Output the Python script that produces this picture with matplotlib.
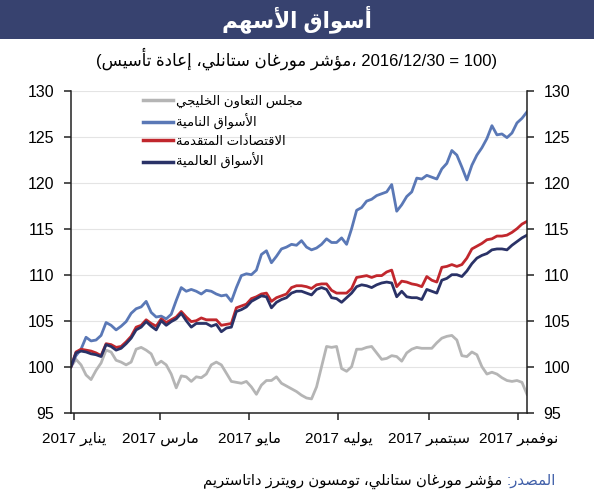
import numpy as np
import pandas as pd
import matplotlib
matplotlib.use('Agg')
import matplotlib.pyplot as plt
from matplotlib.patches import Rectangle

plt.rcParams['font.family'] = ['Liberation Sans', 'DejaVu Sans']

# --- بيانات (مؤشر مورغان ستانلي، 2016/12/30 = 100) ---
start_date = '2016-12-30'
end_date = '2017-11-07'

gcc = [100.0, 100.8, 100.2, 99.1, 98.6, 99.6, 100.4, 101.8, 101.6, 100.7, 100.5, 100.2,
       100.5, 101.9, 102.1, 101.8, 101.4, 100.2, 100.6, 100.2, 99.2, 97.7, 99.0, 98.9,
       98.4, 98.9, 98.8, 99.2, 100.2, 100.5, 100.2, 99.3, 98.4, 98.3, 98.2, 98.4,
       97.8, 97.0, 98.0, 98.5, 98.5, 98.9, 98.2, 97.9, 97.6, 97.3, 96.9,
       96.6, 96.5, 97.8, 100.0, 102.2, 102.1, 102.2, 99.8, 99.5, 100.0, 101.9, 101.9,
       102.1, 102.2, 101.5, 100.8, 100.9, 101.2, 101.1, 100.6, 101.5, 101.9, 102.1,
       102.0, 102.0, 102.0, 102.6, 103.1, 103.3, 103.4, 102.9, 101.2, 101.1, 101.6,
       101.3, 100.0, 99.2, 99.4, 99.2, 98.8, 98.5, 98.4, 98.5, 98.3, 97.0]

emerging = [100.0, 101.2, 101.9, 103.2, 102.8, 102.9, 103.4, 104.8, 104.5, 104.0, 104.4, 104.9,
            105.8, 106.3, 106.5, 107.1, 105.9, 105.4, 105.5, 105.2, 105.7, 107.2, 108.6, 108.2,
            108.4, 108.2, 107.9, 108.3, 108.2, 107.9, 107.7, 107.8, 107.1, 108.6, 109.9, 110.1,
            110.0, 110.5, 112.2, 112.6, 111.3, 112.0, 112.8, 113.0, 113.3, 113.2, 113.7,
            113.0, 112.7, 112.9, 113.3, 113.9, 113.5, 113.5, 114.0, 113.3, 115.0, 117.0, 117.3,
            118.0, 118.2, 118.6, 118.8, 119.0, 119.8, 116.9, 117.6, 118.5, 119.0, 120.5,
            120.4, 120.8, 120.6, 120.4, 121.5, 122.1, 123.5, 123.0, 121.7, 120.3, 121.9,
            123.0, 123.8, 124.8, 126.2, 125.2, 125.3, 124.9, 125.4, 126.5, 127.0, 127.7]

advanced = [100.0, 101.6, 101.9, 101.8, 101.7, 101.5, 101.2, 102.5, 102.4, 102.1, 102.2, 102.7,
            103.3, 104.3, 104.5, 105.1, 104.7, 104.4, 105.2, 104.8, 105.1, 105.4, 106.0, 105.4,
            104.9, 105.0, 105.3, 105.1, 105.1, 105.1, 104.5, 104.6, 104.7, 106.4, 106.6, 106.8,
            107.4, 107.6, 107.9, 108.0, 107.1, 107.5, 107.7, 107.9, 108.6, 108.8, 108.8,
            108.7, 108.5, 108.9, 109.0, 109.0, 108.3, 108.0, 108.0, 108.0, 108.5, 109.7, 109.8,
            109.9, 109.7, 109.9, 109.9, 110.3, 110.5, 108.7, 109.3, 109.2, 109.0, 108.9,
            108.7, 109.8, 109.4, 109.2, 110.8, 110.9, 111.1, 110.9, 111.1, 111.8, 112.8,
            113.1, 113.4, 113.8, 113.9, 114.2, 114.2, 114.3, 114.6, 115.0, 115.5, 115.8]

world = [100.0, 101.5, 101.7, 101.6, 101.4, 101.3, 101.1, 102.4, 102.2, 101.8, 102.0, 102.5,
         103.1, 104.0, 104.3, 104.9, 104.4, 104.0, 105.0, 104.5, 104.9, 105.2, 105.8, 105.0,
         104.3, 104.7, 104.7, 104.7, 104.4, 104.6, 103.8, 104.2, 104.3, 106.0, 106.2, 106.5,
         107.1, 107.4, 107.7, 107.6, 106.4, 107.0, 107.3, 107.5, 108.0, 108.2, 108.2,
         108.0, 107.8, 108.4, 108.6, 108.4, 107.5, 107.4, 107.0, 107.5, 108.0, 108.7, 108.9,
         108.8, 108.6, 108.9, 109.1, 109.2, 109.1, 107.6, 108.2, 107.6, 107.5, 107.5,
         107.3, 108.4, 108.2, 108.0, 109.4, 109.6, 110.0, 110.0, 109.8, 110.4, 111.2,
         111.8, 112.1, 112.3, 112.7, 112.8, 112.8, 112.7, 113.2, 113.6, 114.0, 114.3]

series_labels = ['مجلس التعاون الخليجي', 'الأسواق النامية', 'الاقتصادات المتقدمة', 'الأسواق العالمية']
series_colors = ['#b5b5b5', '#5a78b6', '#c1272d', '#2a3267']

tick_dates = ['2017-01-01', '2017-03-01', '2017-05-01', '2017-07-01', '2017-09-01', '2017-11-01']
tick_months = ['يناير', 'مارس', 'مايو', 'يوليه', 'سبتمبر', 'نوفمبر']

title = 'أسواق الأسهم'
subtitle_ar = 'مؤشر مورغان ستانلي، إعادة تأسيس'
subtitle_num = '، 2016/12/30 = 100)'
source_head = 'المصدر:'
source_body = 'مؤشر مورغان ستانلي، تومسون رويترز داتاستريم'

# --- تشكيل الحروف العربية يدويا (matplotlib لا يربط الحروف ولا يعكس الاتجاه) ---
FORMS = {
    'ء': (0xFE80, 1), 'آ': (0xFE81, 2), 'أ': (0xFE83, 2), 'ؤ': (0xFE85, 2),
    'إ': (0xFE87, 2), 'ئ': (0xFE89, 4), 'ا': (0xFE8D, 2), 'ب': (0xFE8F, 4),
    'ة': (0xFE93, 2), 'ت': (0xFE95, 4), 'ث': (0xFE99, 4), 'ج': (0xFE9D, 4),
    'ح': (0xFEA1, 4), 'خ': (0xFEA5, 4), 'د': (0xFEA9, 2), 'ذ': (0xFEAB, 2),
    'ر': (0xFEAD, 2), 'ز': (0xFEAF, 2), 'س': (0xFEB1, 4), 'ش': (0xFEB5, 4),
    'ص': (0xFEB9, 4), 'ض': (0xFEBD, 4), 'ط': (0xFEC1, 4), 'ظ': (0xFEC5, 4),
    'ع': (0xFEC9, 4), 'غ': (0xFECD, 4), 'ف': (0xFED1, 4), 'ق': (0xFED5, 4),
    'ك': (0xFED9, 4), 'ل': (0xFEDD, 4), 'م': (0xFEE1, 4), 'ن': (0xFEE5, 4),
    'ه': (0xFEE9, 4), 'و': (0xFEED, 2), 'ى': (0xFEEF, 2), 'ي': (0xFEF1, 4),
}
LAM_ALEF = {'آ': 0xFEF5, 'أ': 0xFEF7, 'إ': 0xFEF9, 'ا': 0xFEFB}


def nforms(c):
    if c == 'LA':
        return 2
    return FORMS.get(c, (0, 0))[1]


def shape(s):
    chars = []
    i = 0
    while i < len(s):
        if s[i] == 'ل' and i + 1 < len(s) and s[i + 1] in LAM_ALEF:
            chars.append(('LA', s[i + 1]))
            i += 2
        else:
            chars.append((s[i], None))
            i += 1
    out = []
    for k, (c, a) in enumerate(chars):
        prev = chars[k - 1][0] if k > 0 else None
        nxt = chars[k + 1][0] if k + 1 < len(chars) else None
        jp = nforms(prev) == 4 and nforms(c) >= 2
        jn = nforms(c) == 4 and nforms(nxt) >= 2
        if c == 'LA':
            out.append(chr(LAM_ALEF[a] + (1 if jp else 0)))
        elif c in FORMS:
            base, n = FORMS[c]
            if n == 1:
                out.append(chr(base))
            elif jp and jn:
                out.append(chr(base + 3))
            elif jp:
                out.append(chr(base + 1))
            elif jn:
                out.append(chr(base + 2))
            else:
                out.append(chr(base))
        else:
            out.append(c)
    return ''.join(out)


def rtl(s):
    return shape(s)[::-1]


dates = pd.date_range(start_date, end_date, periods=len(gcc))

fig = plt.figure(figsize=(5.94, 5.0), dpi=100)
ax = fig.add_axes([71 / 594, 87.3 / 500, 456 / 594, 322 / 500])

for vals, lab, col in zip([gcc, emerging, advanced, world], series_labels, series_colors):
    ax.plot(dates, vals, color=col, lw=2.0, label=rtl(lab), solid_joinstyle='round')

ax.set_ylim(95, 130)
ax.set_xlim(pd.Timestamp(start_date), pd.Timestamp(end_date))
ax.set_yticks(np.arange(95, 131, 5))
ax.set_xticks(pd.to_datetime(tick_dates))
ax.set_xticklabels(['2017 ' + rtl(m) for m in tick_months])

for y in range(100, 131, 5):
    ax.axhline(y, color='#e4e4e4', lw=0.8, zorder=0)

ax.spines['top'].set_visible(False)
for s in ['left', 'right', 'bottom']:
    ax.spines[s].set_color('#222222')
    ax.spines[s].set_linewidth(1.1)
ax.tick_params(axis='y', which='both', left=True, right=True, labelleft=True, labelright=True,
               direction='out', length=5, width=1.1, color='#222222', labelsize=11.5, pad=7)
ax.tick_params(axis='x', direction='out', length=5, width=1.1, color='#222222', labelsize=11, pad=9)

leg = ax.legend(loc='upper left', bbox_to_anchor=(143 / 594, 1 - 95 / 500), bbox_transform=fig.transFigure,
                frameon=False, fontsize=9.5, handlelength=2.3, handletextpad=0.2, labelspacing=0.42,
                borderpad=0, borderaxespad=0)
for h in leg.get_lines():
    h.set_linewidth(2.5)

# شريط العنوان
fig.patches.append(Rectangle((0, 1 - 39 / 500), 1, 39 / 500, transform=fig.transFigure,
                             facecolor='#37426f', edgecolor='none', zorder=0))
fig.text(0.5, 1 - 19.5 / 500, rtl(title), color='white', fontsize=15.5, fontweight='bold',
         ha='center', va='center')
fig.text(0.5, 1 - 59 / 500, '(' + rtl(subtitle_ar) + subtitle_num, fontsize=12,
         ha='center', va='center')

t1 = fig.text(556 / 594, 1 - 481 / 500, rtl(source_head), color='#3f5ea8', fontsize=10.7,
              ha='right', va='center')
ax.annotate(rtl(source_body), xy=(0, 0.5), xycoords=t1, xytext=(-3, 0), textcoords='offset points',
            fontsize=10.7, ha='right', va='center', annotation_clip=False)

fig.savefig('out.png', dpi=100)
